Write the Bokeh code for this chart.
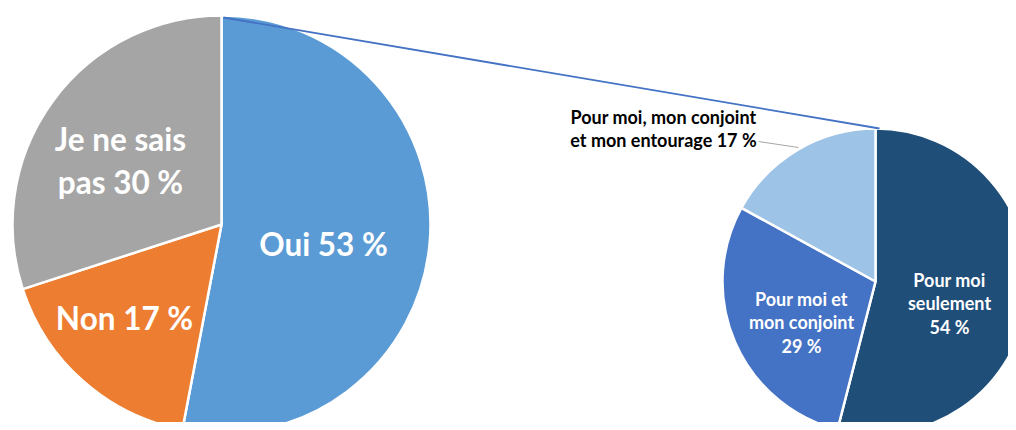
import math
from bokeh.plotting import figure
from bokeh.models import Range1d
from bokeh.core.properties import value
from bokeh.embed import file_html
from bokeh.resources import INLINE

# ---- data ----
main_labels = ["Oui 53 %", "Non 17 %", "Je ne sais\npas 30 %"]
main_values = [53, 17, 30]
main_colors = ["#5B9BD5", "#ED7D31", "#A5A5A5"]

sub_labels = ["Pour moi\nseulement\n54 %", "Pour moi et\nmon conjoint\n29 %",
              "Pour moi, mon conjoint\net mon entourage 17 %"]
sub_values = [54, 29, 17]
sub_colors = ["#1F4E79", "#4472C4", "#9DC3E6"]

W, H = 1008, 422
PAGE_H = 430


def Y(py):
    # picture pixel y -> data y (up)
    return PAGE_H - py


p = figure(width=W, height=H, output_backend="svg", toolbar_location=None,
           x_range=Range1d(0, W), y_range=Range1d(Y(H), Y(0)),
           min_border=0)
p.axis.visible = False
p.grid.visible = False
p.outline_line_color = None
p.background_fill_color = "white"


def wedges(cx, cy, r, vals, colors):
    tot = float(sum(vals))
    cum = 0.0
    starts, ends = [], []
    for v in vals:
        a0 = cum / tot
        cum += v
        a1 = cum / tot
        # clockwise from top
        starts.append(math.pi / 2 - a1 * 2 * math.pi)
        ends.append(math.pi / 2 - a0 * 2 * math.pi)
    p.wedge(x=[cx] * len(vals), y=[cy] * len(vals), radius=r,
            start_angle=starts, end_angle=ends, fill_color=colors,
            line_color="white", line_width=2.5)
    return starts, ends


# main pie
mcx, mcy, mr = 221, Y(224), 209
wedges(mcx, mcy, mr, main_values, main_colors)

# secondary pie
scx, scy, sr = 875, Y(281), 153
wedges(scx, scy, sr, sub_values, sub_colors)

# connector lines (from the edges of the "Oui" slice to the second pie)
frac = main_values[0] / sum(main_values)
ang = frac * 2 * math.pi
ex = mcx + mr * math.sin(ang)
ey = mcy + mr * math.cos(ang)
p.line([mcx + 2, scx + 4], [mcy + mr - 2, scy + sr], line_color="#4472C4", line_width=1.8)
p.line([ex + 5, scx], [ey + 1, scy - sr + 2], line_color="#4472C4", line_width=1.8)

# main labels
font = value("Lato")
p.text(x=[323], y=[Y(243)], text=[main_labels[0]], text_color="white",
       text_font=font, text_font_style="bold", text_font_size="31.5px",
       text_align="center", text_baseline="middle")
p.text(x=[124], y=[Y(317)], text=[main_labels[1]], text_color="white",
       text_font=font, text_font_style="bold", text_font_size="31.5px",
       text_align="center", text_baseline="middle")
p.text(x=[120], y=[Y(160)], text=[main_labels[2]], text_color="white",
       text_font=font, text_font_style="bold", text_font_size="31.5px",
       text_align="center", text_baseline="middle", text_line_height=1.12)

# secondary labels
p.text(x=[949], y=[Y(303)], text=[sub_labels[0]], text_color="white",
       text_font=font, text_font_style="bold", text_font_size="18px",
       text_align="center", text_baseline="middle", text_line_height=1.08)
p.text(x=[801], y=[Y(322)], text=[sub_labels[1]], text_color="white",
       text_font=font, text_font_style="bold", text_font_size="18px",
       text_align="center", text_baseline="middle", text_line_height=1.08)
p.text(x=[663], y=[Y(128)], text=[sub_labels[2]], text_color="black",
       text_font=font, text_font_style="bold", text_font_size="18px",
       text_align="center", text_baseline="middle", text_line_height=1.08)
# leader line
p.line([758, 798], [Y(141), Y(147)], line_color="#A6A6A6", line_width=1)

open("out.html", "w").write(file_html(p, INLINE))
